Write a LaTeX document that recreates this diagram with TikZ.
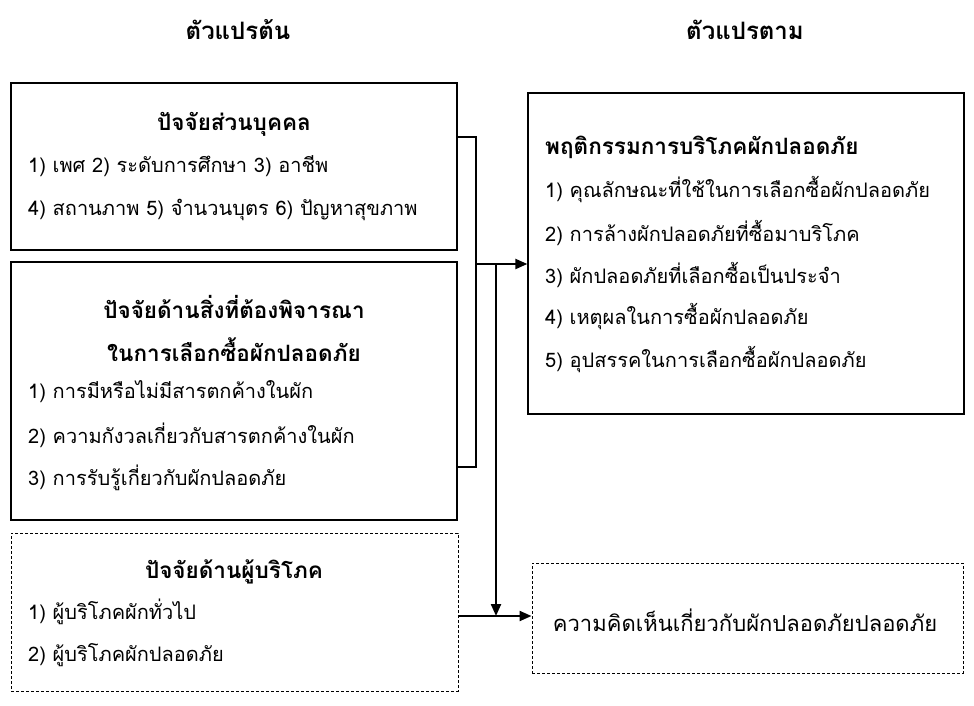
\documentclass[tikz,border=0pt]{standalone}
\usepackage{fontspec}
\setmainfont[Script=Thai]{Loma}
\usetikzlibrary{arrows.meta}
\begin{document}
\begin{tikzpicture}[x=1pt,y=-1pt,>={Triangle[length=12pt,width=10pt]},
  box/.style={draw,line width=1.3pt,rectangle,inner sep=0pt},
  dbox/.style={draw,line width=1pt,dash pattern=on 3pt off 2pt,rectangle,inner sep=0pt},
  txt/.style={anchor=west,inner sep=0pt,font=\fontsize{20}{24}\selectfont},
  ttl/.style={inner sep=0pt,font=\fontsize{22.5}{24}\selectfont\bfseries},
  hd/.style={inner sep=0pt,font=\fontsize{24}{26}\selectfont\bfseries},
  arr/.style={line width=2.2pt,->}]
\useasboundingbox (0,0) rectangle (974,706);
\node(IV)[hd] at (238,30) {ตัวแปรต้น};
\node(DV)[hd] at (745,30) {ตัวแปรตาม};

\node(A)[box, minimum width=446pt, minimum height=167pt] at (234,166.5) {};
\node(Ah)[ttl] at (234,124) {ปัจจัยส่วนบุคคล};
\node(A1)[txt] at (28,166) {1) เพศ 2) ระดับการศึกษา 3) อาชีพ};
\node(A2)[txt] at (28,210) {4) สถานภาพ 5) จำนวนบุตร 6) ปัญหาสุขภาพ};

\node(B)[box, minimum width=446pt, minimum height=258pt] at (234,391) {};
\node(Bh1)[ttl] at (234,307) {ปัจจัยด้านสิ่งที่ต้องพิจารณา};
\node(Bh2)[ttl] at (234,350) {ในการเลือกซื้อผักปลอดภัย};
\node(B1)[txt] at (28,392) {1) การมีหรือไม่มีสารตกค้างในผัก};
\node(B2)[txt] at (28,435) {2) ความกังวลเกี่ยวกับสารตกค้างในผัก};
\node(B3)[txt] at (28,478) {3) การรับรู้เกี่ยวกับผักปลอดภัย};

\node(C)[dbox, minimum width=447pt, minimum height=158pt] at (234.5,612) {};
\node(Ch)[ttl] at (234,572) {ปัจจัยด้านผู้บริโภค};
\node(C1)[txt] at (28,612) {1) ผู้บริโภคผักทั่วไป};
\node(C2)[txt] at (28,655) {2) ผู้บริโภคผักปลอดภัย};

\node(R)[box, minimum width=436pt, minimum height=321pt] at (746,253.5) {};
\node(Rh)[ttl, anchor=west] at (545,147) {พฤติกรรมการบริโภคผักปลอดภัย};
\node(R1)[txt] at (545,190) {1) คุณลักษณะที่ใช้ในการเลือกซื้อผักปลอดภัย};
\node(R2)[txt] at (545,233) {2) การล้างผักปลอดภัยที่ซื้อมาบริโภค};
\node(R3)[txt] at (545,275) {3) ผักปลอดภัยที่เลือกซื้อเป็นประจำ};
\node(R4)[txt] at (545,317) {4) เหตุผลในการซื้อผักปลอดภัย};
\node(R5)[txt] at (545,360) {5) อุปสรรคในการเลือกซื้อผักปลอดภัย};

\node(D)[dbox, minimum width=431pt, minimum height=110pt] at (747.5,618) {};
\node(D1)[txt, anchor=center, font=\fontsize{22}{24}\selectfont] at (745,620) {ความคิดเห็นเกี่ยวกับผักปลอดภัยปลอดภัย};

\coordinate(kA) at (476,137);
\coordinate(kB) at (476,467);
\coordinate(kM) at (476,264);
\coordinate(kV) at (496,264);
\coordinate(kC) at (458,616);

\draw[line width=1.3pt] (A.east |- kA) -- (kA) -- (kB) -- (B.east |- kB);
\draw[arr] (kM) -- (R.west |- kM);
\draw[arr] (C.east |- kC) -- (D.west |- kC);
\draw[arr] (kV) -- (kV |- kC);
\end{tikzpicture}
\end{document}
